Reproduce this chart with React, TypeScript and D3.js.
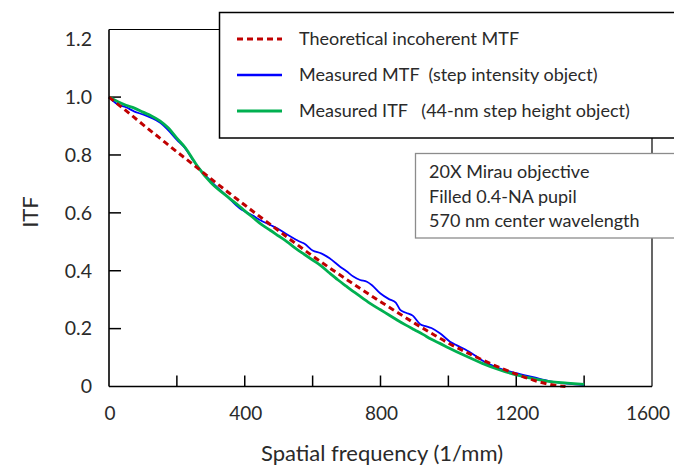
import React from "react";
import * as d3 from "d3";

const theoryX = [0, 50, 100, 150, 200, 250, 300, 350, 400, 450, 500, 550, 600, 650, 700, 750, 800, 850, 900, 950, 1000, 1050, 1100, 1150, 1200, 1250, 1300, 1345];
const theoryY = [1.0, 0.953, 0.905, 0.858, 0.811, 0.765, 0.718, 0.672, 0.627, 0.582, 0.538, 0.494, 0.451, 0.41, 0.37, 0.331, 0.293, 0.256, 0.219, 0.184, 0.15, 0.12, 0.092, 0.066, 0.043, 0.022, 0.007, 0.0];

const mtfX = [0, 25, 50, 75, 100, 125, 150, 175, 200, 225, 250, 263, 300, 350, 386, 400, 425, 445, 475, 504, 525, 550, 563, 575, 600, 625, 650, 681, 700, 720, 740, 760, 775, 799, 825, 845, 858, 875, 895, 917, 935, 950, 975, 1005, 1025, 1050, 1075, 1100, 1150, 1200, 1250, 1300, 1350, 1400];
const mtfY = [1.0, 0.975, 0.965, 0.95, 0.94, 0.928, 0.912, 0.885, 0.852, 0.822, 0.778, 0.757, 0.71, 0.655, 0.615, 0.605, 0.59, 0.575, 0.558, 0.541, 0.525, 0.508, 0.5, 0.494, 0.47, 0.46, 0.443, 0.414, 0.398, 0.38, 0.368, 0.362, 0.35, 0.322, 0.302, 0.29, 0.265, 0.255, 0.245, 0.215, 0.208, 0.202, 0.184, 0.155, 0.142, 0.128, 0.11, 0.09, 0.063, 0.046, 0.032, 0.018, 0.01, 0.005];

const itfX = [0, 25, 50, 75, 100, 125, 150, 175, 200, 225, 250, 263, 300, 350, 386, 400, 425, 450, 475, 500, 525, 550, 575, 600, 625, 650, 675, 700, 725, 750, 775, 800, 825, 850, 875, 900, 925, 950, 975, 1000, 1050, 1100, 1150, 1200, 1250, 1300, 1350, 1400];
const itfY = [1.0, 0.985, 0.972, 0.962, 0.948, 0.935, 0.918, 0.893, 0.858, 0.825, 0.78, 0.757, 0.705, 0.655, 0.621, 0.607, 0.583, 0.559, 0.54, 0.52, 0.5, 0.477, 0.457, 0.437, 0.417, 0.392, 0.368, 0.346, 0.324, 0.303, 0.283, 0.265, 0.247, 0.229, 0.212, 0.196, 0.18, 0.163, 0.149, 0.134, 0.106, 0.08, 0.058, 0.04, 0.027, 0.017, 0.012, 0.007];

const xTickLabels = [0, 400, 800, 1200, 1600];
const xMinorTicks = [200, 400, 600, 800, 1000, 1200, 1400];
const yTickLabels = [0, 0.2, 0.4, 0.6, 0.8, 1.0, 1.2];
const yInnerTicks = [0.2, 0.4, 0.6, 0.8, 1.0];

const legendItems = [
  "Theoretical incoherent MTF",
  "Measured MTF  (step intensity object)",
  "Measured ITF   (44-nm step height object)",
];
const noteLines = ["20X Mirau objective", "Filled 0.4-NA pupil", "570 nm center wavelength"];

const FONT = "Lato, 'Open Sans', sans-serif";
const TEXT = "#2a2a2a";

export default function App() {
  const x = d3.scaleLinear().domain([0, 1600]).range([109, 652]);
  const y = d3.scaleLinear().domain([0, 1.2]).range([386.5, 39.2]);
  const top = 29.5;

  const mk = (xs: number[], ys: number[]) => {
    const l = d3
      .line<[number, number]>()
      .x((d) => x(d[0]))
      .y((d) => y(d[1]))
      .curve(d3.curveMonotoneX);
    return l(xs.map((v, i) => [v, ys[i]] as [number, number])) || "";
  };

  const legendRowsY = [39, 75, 111];
  const legendStyles = [
    { stroke: "#C00000", width: 3, dash: "6,4" },
    { stroke: "#0000FF", width: 2.5, dash: undefined },
    { stroke: "#00B050", width: 3, dash: undefined },
  ];

  return (
    <svg
      width={674}
      height={467}
      style={{ position: "absolute", left: 0, top: 0, background: "#fff" }}
      fontFamily={FONT}
    >
      <rect x={0} y={0} width={674} height={467} fill="#fff" />
      <line x1={x(0)} x2={x(1600)} y1={top} y2={top} stroke="#000" strokeWidth={1.2} />
      <line x1={x(1600)} x2={x(1600)} y1={top} y2={y(0)} stroke="#000" strokeWidth={1.2} />

      {yInnerTicks.map((t) => (
        <line key={"yt" + t} x1={x(0)} x2={x(0) + 12} y1={y(t)} y2={y(t)} stroke="#000" strokeWidth={1.5} />
      ))}
      {xMinorTicks.map((t) => (
        <line key={"xt" + t} x1={x(t)} x2={x(t)} y1={y(0)} y2={y(0) - 11} stroke="#000" strokeWidth={1.5} />
      ))}

      <path d={mk(mtfX, mtfY)} fill="none" stroke="#0000FF" strokeWidth={1.8} />
      <path d={mk(itfX, itfY)} fill="none" stroke="#00B050" strokeWidth={2.8} />
      <path d={mk(theoryX, theoryY)} fill="none" stroke="#C00000" strokeWidth={3} strokeDasharray="6,4" />

      <line x1={x(0)} x2={x(0)} y1={top} y2={y(0)} stroke="#000" strokeWidth={1.6} />
      <line x1={x(0)} x2={x(1600)} y1={y(0)} y2={y(0)} stroke="#000" strokeWidth={1.6} />

      {yTickLabels.map((t) => (
        <text key={"yl" + t} x={92} y={y(t)} dy="0.35em" textAnchor="end" fontSize={19.5} fill={TEXT}>
          {t === 0 ? "0" : t.toFixed(1)}
        </text>
      ))}
      {xTickLabels.map((t) => (
        <text
          key={"xl" + t}
          x={t === 1600 ? 670 : x(t) + 1}
          y={413}
          dy="0.35em"
          textAnchor={t === 1600 ? "end" : "middle"}
          fontSize={19}
          fill={TEXT}
        >
          {t}
        </text>
      ))}

      <text x={382} y={453} dy="0.35em" textAnchor="middle" fontSize={22} fill={TEXT}>
        Spatial frequency (1/mm)
      </text>
      <text transform="translate(30,212) rotate(-90)" dy="0.35em" textAnchor="middle" fontSize={22} fill={TEXT}>
        ITF
      </text>

      <rect x={219.5} y={12.5} width={470} height={125.5} fill="#fff" stroke="#000" strokeWidth={1.5} />
      {legendItems.map((label, i) => (
        <g key={label}>
          <line
            x1={237}
            x2={282}
            y1={legendRowsY[i]}
            y2={legendRowsY[i]}
            stroke={legendStyles[i].stroke}
            strokeWidth={legendStyles[i].width}
            strokeDasharray={legendStyles[i].dash}
          />
          <text x={299} y={legendRowsY[i]} dy="0.35em" fontSize={18} fill={TEXT} style={{ whiteSpace: "pre" }}>
            {label}
          </text>
        </g>
      ))}

      <rect x={415.5} y={153.5} width={280} height={84.5} fill="#fff" stroke="#8c8c8c" strokeWidth={1.3} />
      {noteLines.map((t, i) => (
        <text key={t} x={429} y={172 + i * 24.5} dy="0.35em" fontSize={18} fill={TEXT}>
          {t}
        </text>
      ))}
    </svg>
  );
}
